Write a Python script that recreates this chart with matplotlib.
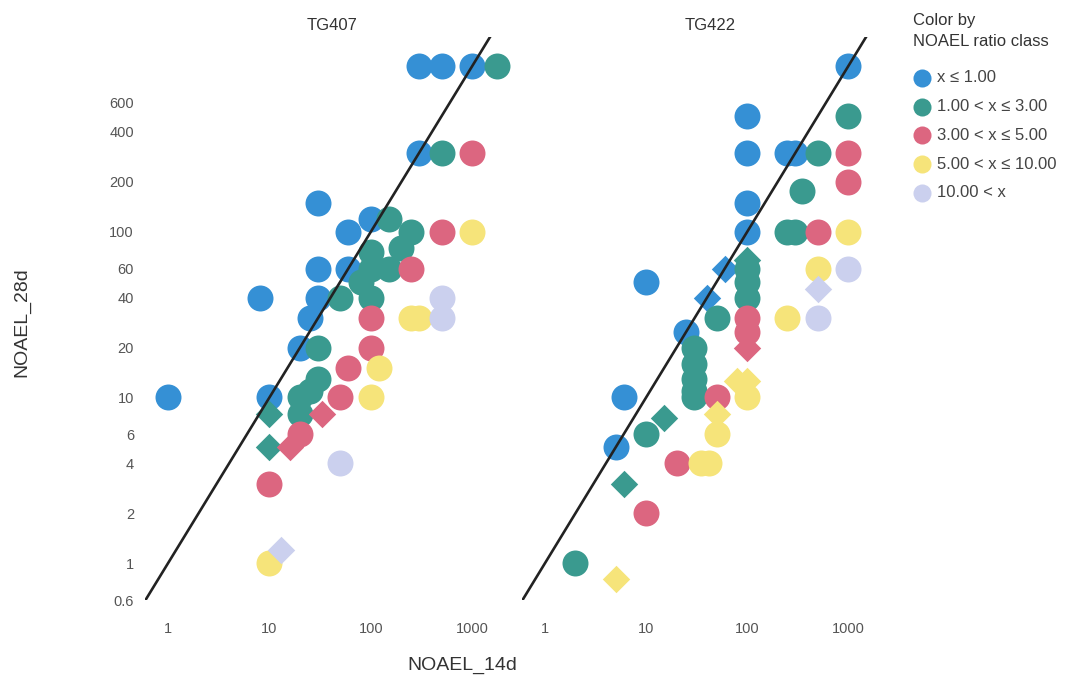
import matplotlib
matplotlib.use("Agg")
import matplotlib.pyplot as plt
from matplotlib.lines import Line2D
from matplotlib.ticker import NullLocator

plt.rcParams['font.family'] = ['Liberation Sans', 'DejaVu Sans']

# ---------------- data ----------------
panel_titles = ["TG407", "TG422"]
class_labels = ["x \u2264 1.00", "1.00 < x \u2264 3.00", "3.00 < x \u2264 5.00",
                "5.00 < x \u2264 10.00", "10.00 < x"]
class_colors = ["#3590d5", "#3a9a8f", "#dc6680", "#f6e47a", "#cbd0ee"]

x_ticks = [1, 10, 100, 1000]
y_ticks = [0.6, 1, 2, 4, 6, 10, 20, 40, 60, 100, 200, 400, 600]
y_tick_labels = ["0.6", "1", "2", "4", "6", "10", "20", "40", "60", "100", "200", "400", "600"]

# TG407 : NOAEL_14d, NOAEL_28d, ratio class (0..4), marker shape
tg407_x14 = [300, 500, 1000, 300, 30, 60, 100, 30, 60, 8, 30, 25, 20, 1, 10,
             1750, 500, 150, 250, 200, 100, 150, 100, 80, 50, 100, 30, 30, 20, 25, 20,
             10, 10,
             1000, 500, 250, 100, 100, 60, 50, 20, 10,
             33, 16,
             1000, 250, 300, 120, 100, 10,
             500, 500, 50,
             13]
tg407_y28 = [1000, 1000, 1000, 300, 150, 100, 120, 60, 60, 40, 40, 30, 20, 10, 10,
             1000, 300, 120, 100, 80, 75, 60, 60, 50, 40, 40, 20, 13, 10, 11, 8,
             8, 5,
             300, 100, 60, 30, 20, 15, 10, 6, 3,
             8, 5,
             100, 30, 30, 15, 10, 1,
             40, 30, 4,
             1.2]
tg407_cls = [0] * 15 + [1] * 16 + [1] * 2 + [2] * 9 + [2] * 2 + [3] * 6 + [4] * 3 + [4]
tg407_shape = (["o"] * 15 + ["o"] * 16 + ["D"] * 2 + ["o"] * 9 + ["D"] * 2
               + ["o"] * 6 + ["o"] * 3 + ["D"])

# TG422
tg422_x14 = [1000, 100, 100, 250, 300, 100, 100, 10, 25, 6, 5,
             60, 40,
             1000, 500, 350, 250, 300, 100, 100, 100, 50, 30, 30, 30, 30, 30, 10, 2,
             100, 15, 6,
             1000, 1000, 500, 100, 100, 50, 20, 10,
             100,
             1000, 500, 250, 100, 50, 35, 42,
             80, 100, 50, 5,
             1000, 500,
             500]
tg422_y28 = [1000, 500, 300, 300, 300, 150, 100, 50, 25, 10, 5,
             60, 40,
             500, 300, 175, 100, 100, 60, 50, 40, 30, 20, 16, 13, 11, 10, 6, 1,
             68, 7.5, 3,
             300, 200, 100, 30, 25, 10, 4, 2,
             20,
             100, 60, 30, 10, 6, 4, 4,
             12.5, 12.5, 8, 0.8,
             60, 30,
             45]
tg422_cls = ([0] * 11 + [0] * 2 + [1] * 16 + [1] * 3 + [2] * 8 + [2]
             + [3] * 7 + [3] * 4 + [4] * 2 + [4])
tg422_shape = (["o"] * 11 + ["D"] * 2 + ["o"] * 16 + ["D"] * 3 + ["o"] * 8 + ["D"]
               + ["o"] * 7 + ["D"] * 4 + ["o"] * 2 + ["D"])

panels = [(tg407_x14, tg407_y28, tg407_cls, tg407_shape),
          (tg422_x14, tg422_y28, tg422_cls, tg422_shape)]

# ---------------- layout ----------------
W, H = 1069, 681
fig = plt.figure(figsize=(W / 100, H / 100), dpi=100)
fig.patch.set_facecolor("white")


def px_rect(l, t, r, b):
    return [l / W, 1 - b / H, (r - l) / W, (b - t) / H]


ax1 = fig.add_axes(px_rect(145, 37, 507, 600))
ax2 = fig.add_axes(px_rect(522, 37, 883, 600))
axes = [ax1, ax2]
XLIM = (0.593, 2200)
YLIM = (0.607, 1496)
title_px = [(332, 25), (710, 25)]

for k, ax in enumerate(axes):
    xs, ys, cls, shp = panels[k]
    # circles first, then diamonds; by class order
    for shape, size in (("o", 350), ("D", 195)):
        for c in range(5):
            px = [x for x, cc, s in zip(xs, cls, shp) if cc == c and s == shape]
            py = [y for y, cc, s in zip(ys, cls, shp) if cc == c and s == shape]
            if px:
                ax.scatter(px, py, s=size, marker=shape, color=class_colors[c],
                           linewidths=0, zorder=2 + c * 0.01, clip_on=False)
    ax.plot([0.3, 5000], [0.3, 5000], color="#222222", lw=1.9, zorder=5)
    ax.set_xscale("log")
    ax.set_yscale("log")
    ax.set_xlim(*XLIM)
    ax.set_ylim(*YLIM)
    ax.set_xticks(x_ticks)
    ax.set_xticklabels([str(t) for t in x_ticks])
    ax.set_yticks(y_ticks)
    ax.set_yticklabels(y_tick_labels)
    ax.xaxis.set_minor_locator(NullLocator())
    ax.yaxis.set_minor_locator(NullLocator())
    for sp in ax.spines.values():
        sp.set_visible(False)
    ax.tick_params(axis="both", length=0, labelsize=10.5, labelcolor="#555555")
    ax.tick_params(axis="x", pad=16)
    ax.tick_params(axis="y", pad=8)
    ax.set_facecolor("none")
    tx, ty = title_px[k]
    fig.text(tx / W, 1 - ty / H, panel_titles[k], ha="center", va="center",
             fontsize=12, color="#333333")

ax2.tick_params(axis="y", labelleft=False)

fig.text(462 / W, 1 - 665 / H, "NOAEL_14d", ha="center", va="center",
         fontsize=14, color="#333333")
fig.text(22 / W, 1 - 322 / H, "NOAEL_28d", ha="center", va="center",
         rotation=90, fontsize=14, color="#333333")

# legend
fig.text(913 / W, 1 - 20 / H, "Color by", ha="left", va="center",
         fontsize=12, color="#333333")
fig.text(913 / W, 1 - 42 / H, "NOAEL ratio class", ha="left", va="center",
         fontsize=12, color="#333333")
for i, (lab, col) in enumerate(zip(class_labels, class_colors)):
    yy = 78 + 28.7 * i
    fig.add_artist(Line2D([922 / W], [1 - yy / H], transform=fig.transFigure,
                          marker="o", markersize=13, color=col, linestyle="none",
                          markeredgewidth=0))
    fig.text(937 / W, 1 - yy / H, lab, ha="left", va="center",
             fontsize=12, color="#444444")

fig.savefig("out.png", dpi=100, facecolor="white")
